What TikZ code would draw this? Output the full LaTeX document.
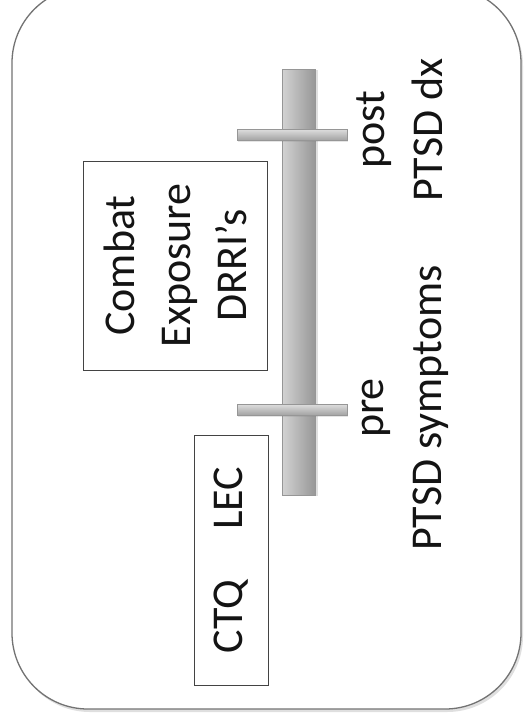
\documentclass[tikz,border=0pt]{standalone}
\usepackage{fontspec}
\setmainfont{Carlito}
\usetikzlibrary{shadows}
\definecolor{framegray}{RGB}{115,115,115}
\definecolor{barlight}{RGB}{205,205,205}
\definecolor{bardark}{RGB}{150,150,150}
\definecolor{baredge}{RGB}{150,150,150}
\definecolor{inkc}{RGB}{20,20,20}
\tikzset{
  frame/.style={draw=framegray, line width=1.3pt, rounded corners=76pt, fill=white,
    drop shadow={shadow xshift=2pt, shadow yshift=-3pt, opacity=0.25, fill=gray}},
  timebar/.style={draw=baredge, line width=0.6pt, left color=barlight!90!white, right color=bardark,
    minimum width=33pt, minimum height=426pt, inner sep=0pt,
    drop shadow={shadow xshift=2pt, shadow yshift=-1pt, opacity=0.25, fill=gray}},
  tickbar/.style={draw=baredge, line width=0.6pt, top color=barlight!70!white, bottom color=bardark!90!white,
    minimum width=110pt, minimum height=11pt, inner sep=0pt,
    drop shadow={shadow xshift=1pt, shadow yshift=-1pt, opacity=0.2, fill=gray}},
  measbox/.style={draw=inkc!80, line width=1pt, rotate=90, inner sep=0pt, text=inkc,
    font=\fontsize{44}{56}\selectfont, align=center},
  lbl/.style={rotate=90, inner sep=0pt, text=inkc, align=center,
    font=\fontsize{44}{58}\selectfont}
}
\begin{document}
\begin{tikzpicture}[x=1pt,y=-1pt]
\useasboundingbox[fill=white] (0,0) rectangle (526,723);
\node[frame, inner sep=0pt, minimum width=509pt, minimum height=722pt] (outer) at (266.5,348) {};
\node[timebar] (bar) at (299,282) {};
\node[tickbar] (postbar) at (292,135) {};
\node[tickbar] (prebar) at (292,410) {};
\node[measbox, minimum width=209pt, minimum height=184pt] (combat) at (175,265.5) {Combat\\Exposure\\DRRI’s};
\node[measbox, minimum width=250pt, minimum height=74pt] (ctq) at (231,560) {\raisebox{0pt}{CTQ\hspace{50pt}LEC}};
\node[lbl, anchor=center] (postlbl) at (400,130) {post\\PTSD dx};
\node[lbl, anchor=center] (prelbl) at (405,408) {pre\\PTSD symptoms};
\end{tikzpicture}
\end{document}
